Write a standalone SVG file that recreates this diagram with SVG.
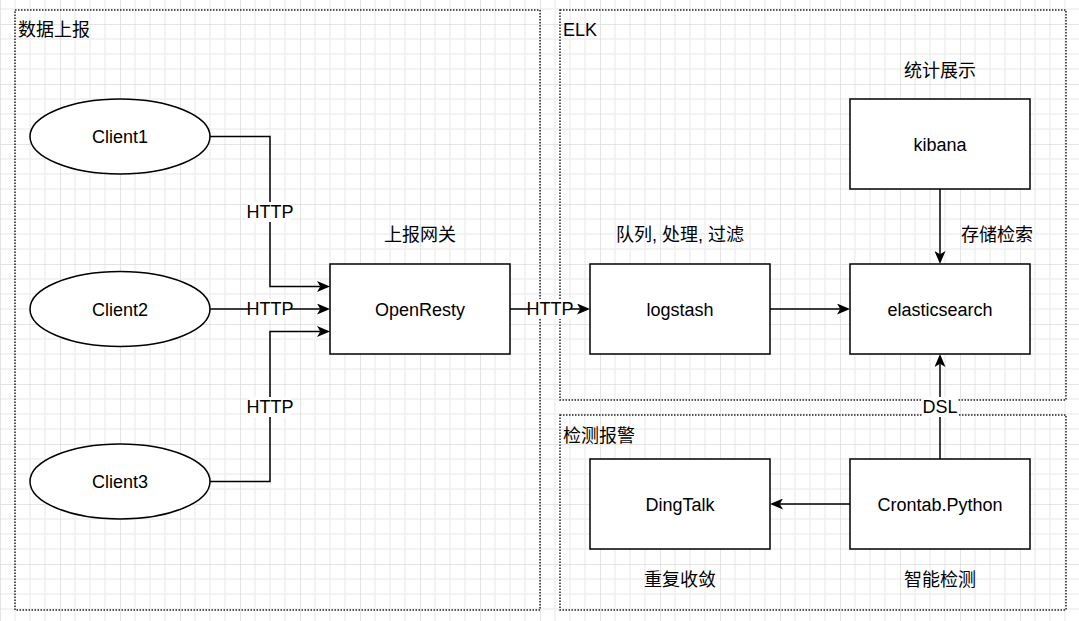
<svg xmlns="http://www.w3.org/2000/svg" width="1079" height="621" viewBox="0 0 1079 621">
<style>
.node{fill:#fff;stroke:#000;stroke-width:1.5}
.grp{fill:none;stroke:#222;stroke-width:1.5;stroke-dasharray:1.5 1.5}
.t{font-family:"Liberation Sans","Noto Sans CJK SC",Arial,sans-serif;font-size:18px;fill:#000}
.c{text-anchor:middle}
.conn path{fill:none;stroke:#000;stroke-width:1.5}
.lbl{fill:#fff;stroke:none}
</style>
<defs>
<pattern id="grid" patternUnits="userSpaceOnUse" x="0" y="24" width="60" height="60">
<rect width="60" height="60" fill="#fff"/>
<path d="M15,0V60M30,0V60M45,0V60M0,15H60M0,30H60M0,45H60" stroke="#f0f0f0" stroke-width="1.5" fill="none"/>
<path d="M0,0V60M0,0H60" stroke="#dcdcdc" stroke-width="1.5" fill="none"/>
</pattern>
<marker id="arr" markerUnits="userSpaceOnUse" viewBox="0 0 13 11" refX="3" refY="5.5" markerWidth="13" markerHeight="11" orient="auto">
<path d="M13,5.5 L0,0 L3.25,5.5 L0,11 Z" fill="#000"/>
</marker>
</defs>
<rect width="1079" height="621" fill="url(#grid)"/>

<g id="group-report">
<rect class="grp" x="15" y="10" width="525" height="600"/>
<text class="t" x="18" y="36">数据上报</text>
</g>
<g id="group-elk">
<rect class="grp" x="560" y="10" width="506" height="390"/>
<text class="t" x="563" y="36">ELK</text>
</g>
<g id="group-alert">
<rect class="grp" x="560" y="415" width="506" height="195"/>
<text class="t" x="563" y="442">检测报警</text>
</g>

<g class="conn" id="connectors">
<path d="M210,136.5 H270 V286.5 H320" marker-end="url(#arr)"/>
<path d="M210,309 H320" marker-end="url(#arr)"/>
<path d="M210,481.5 H270 V331.5 H320" marker-end="url(#arr)"/>
<path d="M510,309 H580" marker-end="url(#arr)"/>
<path d="M770,309 H840" marker-end="url(#arr)"/>
<path d="M940,189 V254" marker-end="url(#arr)"/>
<path d="M940,459 V364" marker-end="url(#arr)"/>
<path d="M850,504 H780" marker-end="url(#arr)"/>
<rect class="lbl" x="249" y="202" width="42" height="20"/>
<text class="t c" x="270" y="218">HTTP</text>
<rect class="lbl" x="249" y="299" width="42" height="20"/>
<text class="t c" x="270" y="315">HTTP</text>
<rect class="lbl" x="249" y="397" width="42" height="20"/>
<text class="t c" x="270" y="413">HTTP</text>
<rect class="lbl" x="529" y="299" width="42" height="20"/>
<text class="t c" x="550" y="315">HTTP</text>
<rect class="lbl" x="922" y="397" width="36" height="20"/>
<text class="t c" x="940" y="413">DSL</text>
</g>

<g id="client1"><ellipse class="node" cx="120" cy="136.5" rx="90" ry="37.5"/><text class="t c" x="120" y="143">Client1</text></g>
<g id="client2"><ellipse class="node" cx="120" cy="309" rx="90" ry="37.5"/><text class="t c" x="120" y="316">Client2</text></g>
<g id="client3"><ellipse class="node" cx="120" cy="481.5" rx="90" ry="37.5"/><text class="t c" x="120" y="488">Client3</text></g>

<g id="openresty"><rect class="node" x="330" y="264" width="180" height="90"/><text class="t c" x="420" y="316">OpenResty</text><text class="t c" x="420" y="241">上报网关</text></g>
<g id="logstash"><rect class="node" x="590" y="264" width="180" height="90"/><text class="t c" x="680" y="316">logstash</text><text class="t c" x="680" y="241">队列, 处理, 过滤</text></g>
<g id="elasticsearch"><rect class="node" x="850" y="264" width="180" height="90"/><text class="t c" x="940" y="316">elasticsearch</text><text class="t c" x="997" y="241">存储检索</text></g>
<g id="kibana"><rect class="node" x="850" y="99" width="180" height="90"/><text class="t c" x="940" y="151">kibana</text><text class="t c" x="940" y="77">统计展示</text></g>
<g id="dingtalk"><rect class="node" x="590" y="459" width="180" height="90"/><text class="t c" x="680" y="511">DingTalk</text><text class="t c" x="680" y="586">重复收敛</text></g>
<g id="crontab"><rect class="node" x="850" y="459" width="180" height="90"/><text class="t c" x="940" y="511">Crontab.Python</text><text class="t c" x="940" y="586">智能检测</text></g>
</svg>
